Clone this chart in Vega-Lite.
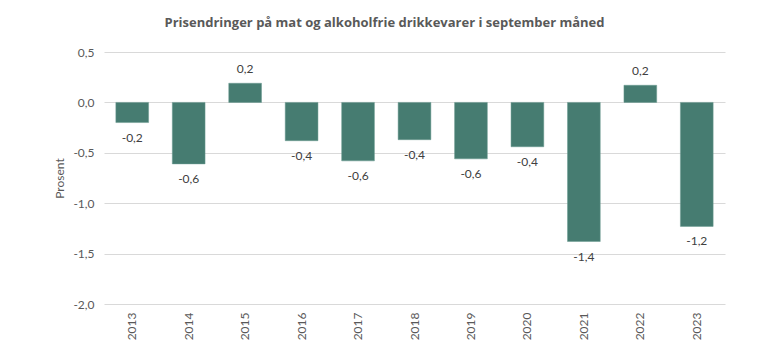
{
  "$schema": "https://vega.github.io/schema/vega-lite/v6.json",
  "width": 621,
  "height": 252,
  "autosize": "none",
  "padding": {"left": 104, "top": 52, "right": 43, "bottom": 54},
  "background": "white",
  "title": {
    "text": "Prisendringer på mat og alkoholfrie drikkevarer i september måned",
    "font": "Open Sans",
    "fontSize": 13,
    "fontWeight": "bold",
    "color": "#595959",
    "anchor": "middle",
    "dx": -30,
    "offset": 16
  },
  "config": {
    "locale": {"number": {"decimal": ",", "thousands": " ", "grouping": [3], "currency": ["", " kr"], "minus": "-"}},
    "view": {"stroke": null},
    "font": "Lato"
  },
  "data": {
    "values": [
      {"year": "2013", "v": -0.20},
      {"year": "2014", "v": -0.61},
      {"year": "2015", "v": 0.19},
      {"year": "2016", "v": -0.38},
      {"year": "2017", "v": -0.58},
      {"year": "2018", "v": -0.37},
      {"year": "2019", "v": -0.56},
      {"year": "2020", "v": -0.44},
      {"year": "2021", "v": -1.38},
      {"year": "2022", "v": 0.17},
      {"year": "2023", "v": -1.23}
    ]
  },
  "encoding": {
    "x": {
      "field": "year",
      "type": "nominal",
      "scale": {"paddingInner": 0.42, "paddingOuter": 0.21},
      "axis": {
        "title": null,
        "labelAngle": -90,
        "labelAlign": "right",
        "labelBaseline": "middle",
        "labelPadding": 8,
        "labelFontSize": 12,
        "labelColor": "#595959",
        "domain": false,
        "ticks": false,
        "grid": false
      }
    },
    "y": {
      "field": "v",
      "type": "quantitative",
      "scale": {"domain": [-2, 0.5], "nice": false},
      "axis": {
        "title": "Prosent",
        "titleFontSize": 12,
        "titleFontWeight": "normal",
        "titleColor": "#595959",
        "titlePadding": 6,
        "values": [-2, -1.5, -1, -0.5, 0, 0.5],
        "format": ".1f",
        "labelFontSize": 12,
        "labelColor": "#595959",
        "labelPadding": 10,
        "domain": false,
        "ticks": false,
        "grid": true,
        "gridColor": "#d9d9d9",
        "gridWidth": 1
      }
    }
  },
  "layer": [
    {
      "mark": {"type": "bar", "color": "#467C71", "stroke": "#6a9a90", "strokeWidth": 0.5},
      "encoding": {"y2": {"datum": 0}}
    },
    {
      "transform": [{"filter": "datum.v < 0"}],
      "mark": {"type": "text", "baseline": "top", "dy": 10, "fontSize": 12, "color": "#404040"},
      "encoding": {"text": {"field": "v", "type": "quantitative", "format": ".1f"}}
    },
    {
      "transform": [{"filter": "datum.v >= 0"}],
      "mark": {"type": "text", "baseline": "bottom", "dy": -7, "fontSize": 12, "color": "#404040"},
      "encoding": {"text": {"field": "v", "type": "quantitative", "format": ".1f"}}
    }
  ]
}
